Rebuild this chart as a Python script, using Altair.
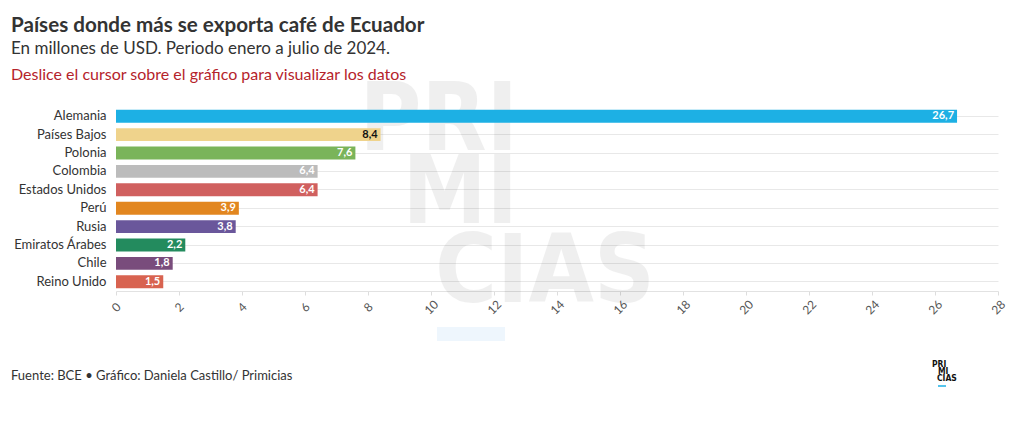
import altair as alt
import pandas as pd

countries = ["Alemania", "Países Bajos", "Polonia", "Colombia", "Estados Unidos",
             "Perú", "Rusia", "Emiratos Árabes", "Chile", "Reino Unido"]
values = [26.7, 8.4, 7.6, 6.4, 6.4, 3.9, 3.8, 2.2, 1.8, 1.5]
bar_colors = ["#1db0e4", "#efd38c", "#7ab45a", "#bcbcbc", "#d0605f",
              "#e2861f", "#6a579b", "#238b5e", "#794c7c", "#d86350"]
label_colors = ["#ffffff", "#111111", "#ffffff", "#ffffff", "#ffffff",
                "#ffffff", "#ffffff", "#ffffff", "#ffffff", "#ffffff"]
x_ticks = list(range(0, 29, 2))

title = "Países donde más se exporta café de Ecuador"
subtitle = "En millones de USD. Periodo enero a julio de 2024."
note = "Deslice el cursor sobre el gráfico para visualizar los datos"
source = "Fuente: BCE • Gráfico: Daniela Castillo/ Primicias"

FONT = "Lato"
WM_FONT = "DejaVu Sans Condensed, Roboto Condensed, Roboto"
W, H = 882, 184

df = pd.DataFrame({
    "pais": countries,
    "valor": values,
    "color": bar_colors,
    "lc": label_colors,
    "label": [f"{v:.1f}".replace(".", ",") for v in values],
})

y_enc = alt.Y("pais:N", sort=countries, title=None,
              scale=alt.Scale(paddingInner=0.3, paddingOuter=0.15),
              axis=alt.Axis(ticks=False, domain=False, labelFontSize=13,
                            labelColor="#333333", labelFont=FONT, labelPadding=10,
                            grid=True, gridColor="#e8e8e8", bandPosition=0.5))
x_enc = alt.X("valor:Q", title=None,
              scale=alt.Scale(domain=[0, 28], nice=False),
              axis=alt.Axis(values=x_ticks, grid=False, labelAngle=-45,
                            labelAlign="center", labelBaseline="middle",
                            labelPadding=12, tickSize=4, tickColor="#dddddd",
                            domainColor="#e2e2e2", labelColor="#555555",
                            labelFontSize=12, labelFont=FONT))

# watermark
wm = pd.DataFrame({
    "t": ["PRI", "MI", "CIAS"],
    "x": [402, 402, 319],
    "y": [43, 116, 195],
    "a": ["right", "right", "left"],
})
def wm_line(i):
    return alt.Chart(wm.iloc[[i]]).mark_text(
        font=WM_FONT, fontWeight="bold", fontSize=94,
        align=wm["a"][i], baseline="alphabetic", color="#000000", opacity=0.06
    ).encode(text="t:N", x=alt.value(int(wm["x"][i])), y=alt.value(int(wm["y"][i])))

watermark = alt.layer(*[wm_line(i) for i in range(3)])

bars = alt.Chart(df).mark_bar(cornerRadius=0).encode(
    y=y_enc, x=x_enc, color=alt.Color("color:N", scale=None),
    tooltip=["pais:N", "valor:Q"])

labels = alt.Chart(df).mark_text(
    align="right", baseline="middle", dx=-3, font=FONT, fontWeight="bold",
    fontSize=11).encode(
    y=alt.Y("pais:N", sort=countries), x="valor:Q",
    text="label:N", color=alt.Color("lc:N", scale=None))

def txt(t, x, y, size, color, weight="normal", font=FONT):
    return alt.Chart(pd.DataFrame({"t": [t]})).mark_text(
        align="left", baseline="alphabetic", font=font, fontSize=size,
        fontWeight=weight, color=color).encode(
        text="t:N", x=alt.value(x), y=alt.value(y))

texts = [
    txt(title, -105, -75, 20.6, "#333333", "bold"),
    txt(subtitle, -105, -53, 17, "#333333"),
    txt(note, -105, -27, 16, "#b5232b"),
    txt(source, -105, 273, 13, "#333333"),
    txt("PRI", 816, 260, 8.5, "#111111", "bold", WM_FONT),
    txt("MI", 822, 267, 8.5, "#111111", "bold", WM_FONT),
    txt("CIAS", 821, 274, 8.5, "#111111", "bold", WM_FONT),
]

logo_line = alt.Chart(pd.DataFrame({"a": [0]})).mark_rule(
    color="#1db0e4", strokeWidth=1.5).encode(
    x=alt.value(822), x2=alt.value(830), y=alt.value(279))

hover_box = alt.Chart(pd.DataFrame({"a": [0]})).mark_rect(
    color="#eef6fd").encode(
    x=alt.value(321), x2=alt.value(389), y=alt.value(220), y2=alt.value(234))

chart = alt.layer(watermark, bars, labels, hover_box, logo_line, *texts).properties(
    width=W, height=H,
    padding={"left": 116, "right": 22, "top": 107, "bottom": 131},
    autosize=alt.AutoSizeParams(type="none"),
    background="#ffffff",
).configure_view(stroke=None)

chart.save("out.html", embed_options={"renderer": "svg", "actions": False})
